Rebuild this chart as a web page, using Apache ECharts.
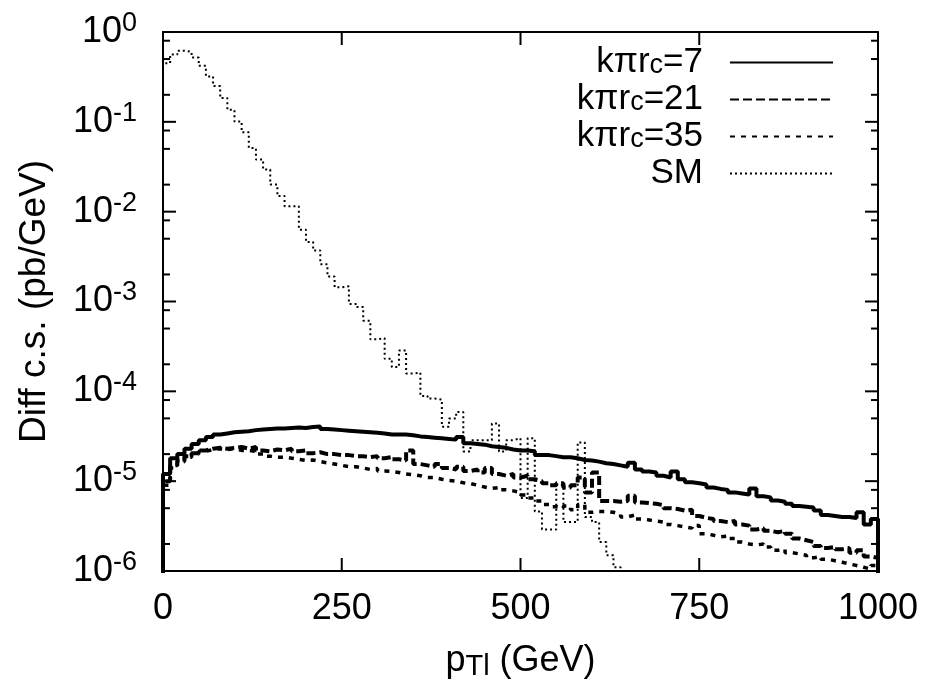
<!DOCTYPE html>
<html>
<head>
<meta charset="utf-8">
<script src="https://cdn.jsdelivr.net/npm/echarts@6/dist/echarts.min.js"></script>
<style>
html,body{margin:0;padding:0;background:#fff;}
#chart{width:942px;height:686px;}
</style>
</head>
<body>
<div id="chart"></div>
<script>
// Lower edges of the 10 GeV bins (GeV)
const binLow = [0,10,20,30,40,50,60,70,80,90,100,110,120,130,140,150,160,170,180,190,
200,210,220,230,240,250,260,270,280,290,300,310,320,330,340,350,360,370,380,390,
400,410,420,430,440,450,460,470,480,490,500,510,520,530,540,550,560,570,580,590,
600,610,620,630,640,650,660,670,680,690,700,710,720,730,740,750,760,770,780,790,
800,810,820,830,840,850,860,870,880,890,900,910,920,930,940,950,960,970,980,990];
const binWidth = 10;
const histFloor = 1e-7; // histogram baseline (below the axis range)

const seriesNames = ['kπr_c=7', 'kπr_c=21', 'kπr_c=35', 'SM'];

const k7 = [1.2e-5,1.8e-5,2.0e-5,2.3e-5,2.6e-5,2.85e-5,3.1e-5,3.3e-5,3.4e-5,3.5e-5,
3.55e-5,3.6e-5,3.7e-5,3.75e-5,3.8e-5,3.85e-5,3.85e-5,3.9e-5,3.95e-5,3.9e-5,
4.0e-5,4.05e-5,3.8e-5,3.75e-5,3.7e-5,3.65e-5,3.6e-5,3.55e-5,3.5e-5,3.45e-5,
3.4e-5,3.3e-5,3.3e-5,3.3e-5,3.25e-5,3.15e-5,3.1e-5,3.05e-5,3.0e-5,2.95e-5,
2.9e-5,3.1e-5,2.65e-5,2.6e-5,2.55e-5,2.45e-5,2.4e-5,2.35e-5,2.25e-5,2.2e-5,
2.2e-5,2.15e-5,1.95e-5,1.95e-5,1.9e-5,1.85e-5,1.85e-5,1.8e-5,1.72e-5,1.7e-5,
1.65e-5,1.58e-5,1.55e-5,1.5e-5,1.45e-5,1.6e-5,1.35e-5,1.28e-5,1.25e-5,1.15e-5,
1.1e-5,1.28e-5,1.05e-5,9.7e-6,9.5e-6,9.2e-6,8.5e-6,8.2e-6,8.0e-6,7.5e-6,
7.3e-6,7.1e-6,8.3e-6,6.8e-6,6.6e-6,6.1e-6,5.9e-6,5.6e-6,5.3e-6,5.2e-6,
5.1e-6,4.7e-6,4.2e-6,4.1e-6,4.0e-6,4.0e-6,3.9e-6,4.5e-6,3.3e-6,3.8e-6];

const k21 = [1.0e-5,1.5e-5,1.7e-5,1.9e-5,2.05e-5,2.2e-5,2.3e-5,2.35e-5,2.3e-5,2.35e-5,
2.4e-5,2.3e-5,2.4e-5,2.2e-5,2.15e-5,2.25e-5,2.2e-5,2.3e-5,2.15e-5,2.2e-5,
2.05e-5,2.1e-5,2.0e-5,2.0e-5,1.95e-5,1.95e-5,1.9e-5,1.9e-5,1.85e-5,1.9e-5,
1.8e-5,1.85e-5,1.75e-5,1.7e-5,2.2e-5,1.55e-5,1.5e-5,1.45e-5,1.55e-5,1.4e-5,
1.35e-5,1.45e-5,1.3e-5,1.35e-5,1.25e-5,1.4e-5,1.2e-5,1.15e-5,1.2e-5,1.1e-5,
1.15e-5,1.05e-5,1.0e-5,9.5e-6,9.0e-6,9.5e-6,8.5e-6,9.0e-6,1.1e-5,7.5e-6,
1.25e-5,6.0e-6,6.0e-6,5.9e-6,6.0e-6,6.9e-6,5.8e-6,5.7e-6,5.6e-6,5.4e-6,
5.0e-6,4.9e-6,4.7e-6,4.8e-6,4.1e-6,3.9e-6,3.8e-6,3.6e-6,3.5e-6,3.6e-6,
3.3e-6,3.2e-6,2.9e-6,3.0e-6,2.8e-6,2.7e-6,2.8e-6,2.6e-6,2.3e-6,2.2e-6,
2.1e-6,1.9e-6,1.8e-6,1.85e-6,1.75e-6,1.8e-6,1.6e-6,1.7e-6,1.45e-6,1.4e-6];

const k35 = [9.0e-6,1.4e-5,1.65e-5,1.85e-5,2.0e-5,2.15e-5,2.25e-5,2.3e-5,2.25e-5,2.3e-5,
2.2e-5,2.2e-5,2.15e-5,2.0e-5,1.9e-5,1.85e-5,1.85e-5,1.8e-5,1.75e-5,1.7e-5,
1.72e-5,1.65e-5,1.6e-5,1.55e-5,1.5e-5,1.45e-5,1.45e-5,1.4e-5,1.35e-5,1.38e-5,
1.3e-5,1.28e-5,1.25e-5,1.2e-5,1.18e-5,1.15e-5,1.1e-5,1.1e-5,1.05e-5,1.02e-5,
1.0e-5,9.6e-6,9.4e-6,9.0e-6,8.6e-6,8.3e-6,8.5e-6,8.0e-6,7.8e-6,7.5e-6,
7.0e-6,6.5e-6,6.0e-6,5.5e-6,5.2e-6,5.0e-6,5.3e-6,4.8e-6,5.5e-6,4.5e-6,
4.6e-6,4.6e-6,4.5e-6,4.3e-6,4.0e-6,4.2e-6,3.8e-6,3.7e-6,3.6e-6,3.5e-6,
3.3e-6,3.2e-6,3.1e-6,3.0e-6,3.2e-6,2.6e-6,2.5e-6,2.4e-6,2.45e-6,2.3e-6,
2.1e-6,2.0e-6,1.95e-6,2.0e-6,1.85e-6,1.7e-6,1.75e-6,1.6e-6,1.55e-6,1.5e-6,
1.4e-6,1.45e-6,1.35e-6,1.3e-6,1.25e-6,1.2e-6,1.15e-6,1.1e-6,1.05e-6,1.15e-6];

const sm = [0.45,0.56,0.62,0.60,0.52,0.42,0.32,0.25,0.184,0.136,
0.101,0.0765,0.051,0.038,0.0295,0.020,0.0149,0.0115,0.0115,0.0063,
0.0046,0.0037,0.0026,0.0019,0.00144,0.00148,0.00094,0.00087,0.00061,0.00038,
0.00039,0.00023,0.000186,0.000285,0.000158,0.000162,0.000089,0.000083,0.000081,0.0000403,
0.00005,0.0000588,0.0000214,0.0000286,0.0000286,0.0000286,0.0000438,0.0000214,0.0000286,0.000030,
0.0000065,0.000030,0.0000046,0.0000029,0.0000029,0.000009,0.0000035,0.0000035,0.000027,0.000004,
0.0000035,0.0000021,0.0000015,0.0000011,5e-7];

// Tick values (axis decorations)
const xTickValues = [0, 250, 500, 750, 1000];
const yMajorTicks = [1e-6, 1e-5, 1e-4, 1e-3, 1e-2, 1e-1, 1];
const yMinorTicks = [2e-6,5e-6,8e-6,2e-5,5e-5,8e-5,2e-4,5e-4,8e-4,2e-3,5e-3,8e-3,2e-2,5e-2,8e-2,0.2,0.5,0.8];

function histData(vals) {
  const pts = [[binLow[0], histFloor]];
  for (let i = 0; i < vals.length; i++) pts.push([binLow[i], vals[i]]);
  const lastEdge = binLow[vals.length - 1] + binWidth;
  pts.push([lastEdge, vals[vals.length - 1]]);
  pts.push([lastEdge, histFloor]);
  return pts;
}

// tick items: [x, y, kind]  kind 0 = x major, 1 = y major, 2 = y minor
const tickItems = [];
xTickValues.forEach(v => tickItems.push([v, yMajorTicks[0], 0]));
yMajorTicks.forEach(v => tickItems.push([xTickValues[0], v, 1]));
yMinorTicks.forEach(v => tickItems.push([xTickValues[0], v, 2]));

const MAJOR_LEN = 13, MINOR_LEN = 7;
function renderTick(params, api) {
  const cs = params.coordSys;
  const kind = api.value(2);
  const p = api.coord([api.value(0), api.value(1)]);
  const st = {stroke: '#000', lineWidth: 2};
  if (kind === 0) {
    const x = p[0];
    return {type: 'group', children: [
      {type: 'line', shape: {x1: x, y1: cs.y + cs.height, x2: x, y2: cs.y + cs.height - MAJOR_LEN}, style: st},
      {type: 'line', shape: {x1: x, y1: cs.y, x2: x, y2: cs.y + MAJOR_LEN}, style: st}
    ]};
  }
  const len = kind === 1 ? MAJOR_LEN : MINOR_LEN;
  const y = p[1];
  return {type: 'group', children: [
    {type: 'line', shape: {x1: cs.x, y1: y, x2: cs.x + len, y2: y}, style: st},
    {type: 'line', shape: {x1: cs.x + cs.width, y1: y, x2: cs.x + cs.width - len, y2: y}, style: st}
  ]};
}

const FONT = '"Liberation Sans", Arial, sans-serif';
const chart = echarts.init(document.getElementById('chart'), null, {renderer: 'canvas'});

const mkLine = () => ({show: true, onZero: false, lineStyle: {color: '#000', width: 2}});

const styles = [
  {type: 'solid', width: 4},
  {type: [9, 4], width: 4},
  {type: [5, 6], width: 3.5},
  {type: [2, 3], width: 2}
];
const datasets = [k7, k21, k35, sm];

const series = datasets.map((vals, i) => ({
  name: seriesNames[i], type: 'line', step: 'end', xAxisIndex: 0, yAxisIndex: 0,
  data: histData(vals), showSymbol: false, symbol: 'none', clip: true,
  lineStyle: {color: '#000', width: styles[i].width, type: styles[i].type, cap: 'butt'},
  itemStyle: {color: '#000', opacity: 0}
}));
series.push({
  name: 'axisTicks', type: 'custom', xAxisIndex: 0, yAxisIndex: 0, silent: true, clip: false, z: 5,
  renderItem: renderTick, data: tickItems, encode: {x: 0, y: 1}
});

chart.setOption({
  animation: false,
  grid: {left: 163, right: 64, top: 32, bottom: 113},
  legend: {
    orient: 'vertical', right: 103, top: 40, align: 'right',
    itemWidth: 103, itemHeight: 3, itemGap: 2,
    data: seriesNames,
    formatter: n => n.replace('_c', '{sub|c}') + '{gap|}',
    textStyle: {fontFamily: FONT, fontSize: 35, color: '#000', lineHeight: 34,
      rich: {
        sub: {fontFamily: FONT, fontSize: 27, color: '#000', lineHeight: 4, verticalAlign: 'bottom'},
        gap: {width: 22, lineHeight: 34}
      }}
  },
  xAxis: [
    {type: 'value', position: 'bottom', min: 0, max: 1000, interval: 250,
     axisLine: mkLine(), axisTick: {show: false}, splitLine: {show: false},
     axisLabel: {fontFamily: FONT, fontSize: 36, color: '#000', margin: 20, formatter: v => String(v)},
     name: 'p{sub|Tl} (GeV)', nameLocation: 'middle', nameGap: 70,
     nameTextStyle: {fontFamily: FONT, fontSize: 36, color: '#000', lineHeight: 40,
       rich: {sub: {fontFamily: FONT, fontSize: 29, color: '#000', lineHeight: 14, verticalAlign: 'bottom'}}}},
    {type: 'value', position: 'top', min: 0, max: 1000, interval: 250,
     axisLine: mkLine(), axisTick: {show: false}, axisLabel: {show: false}, splitLine: {show: false}}
  ],
  yAxis: [
    {type: 'log', logBase: 10, position: 'left', min: 1e-6, max: 1, splitNumber: 6,
     axisLine: mkLine(), axisTick: {show: false}, splitLine: {show: false},
     axisLabel: {fontFamily: FONT, fontSize: 36, color: '#000', margin: 26,
       formatter: v => '10{sup|' + Math.round(Math.log10(v)) + '}',
       lineHeight: 44,
       rich: {sup: {fontFamily: FONT, fontSize: 27, color: '#000', lineHeight: 20, verticalAlign: 'top'}}},
     name: 'Diff c.s. (pb/GeV)', nameLocation: 'middle', nameGap: 110, nameRotate: 90,
     nameTextStyle: {fontFamily: FONT, fontSize: 37, color: '#000'}},
    {type: 'log', logBase: 10, position: 'right', min: 1e-6, max: 1, splitNumber: 6,
     axisLine: mkLine(), axisTick: {show: false}, axisLabel: {show: false}, splitLine: {show: false}}
  ],
  series: series
});
</script>
</body>
</html>
